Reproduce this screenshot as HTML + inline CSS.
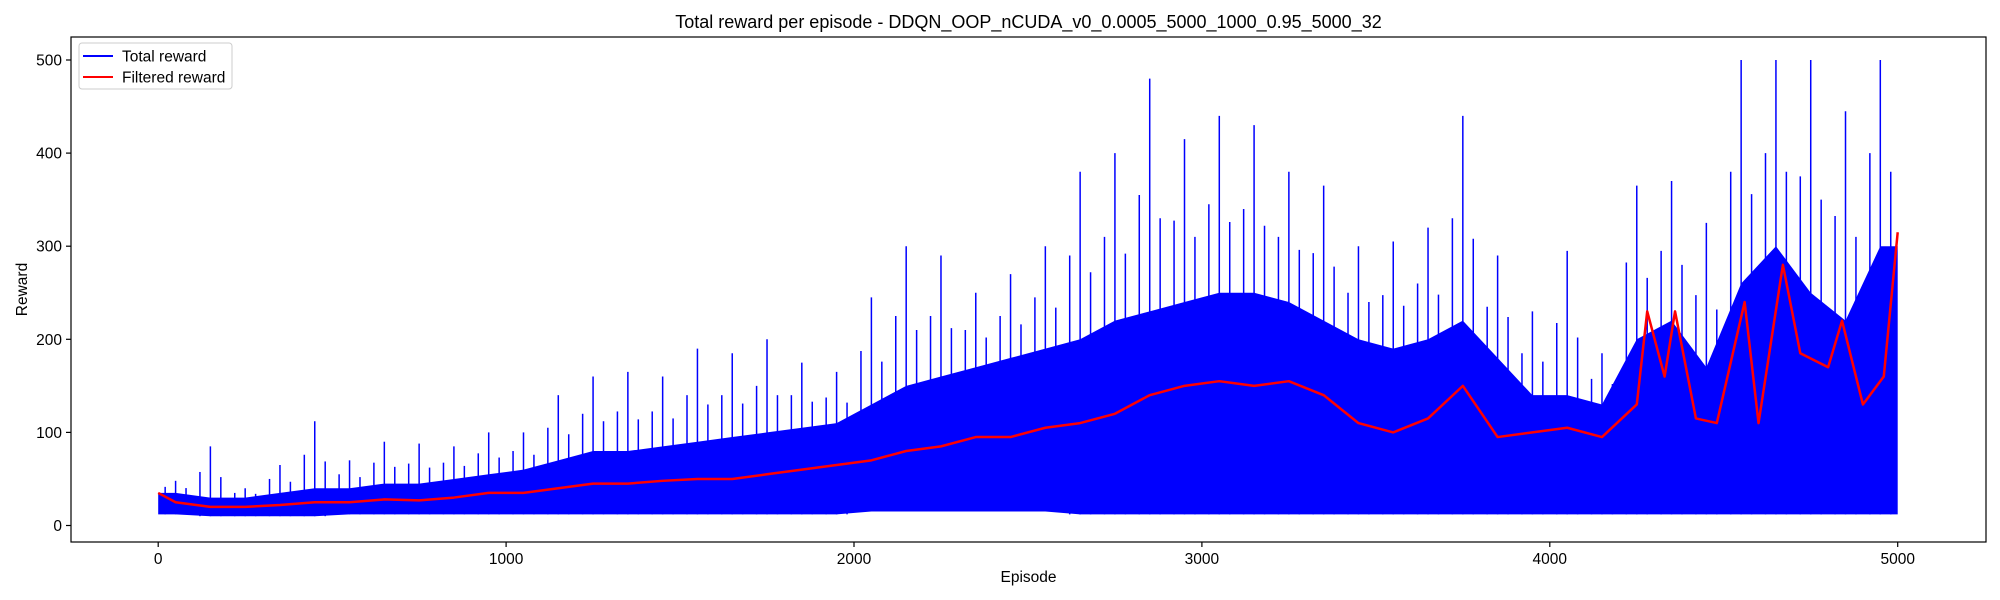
<!DOCTYPE html>
<html><head><meta charset="utf-8"><style>
body{margin:0;background:#fff;}
svg{display:block;font-family:"Liberation Sans","DejaVu Sans",sans-serif;}
</style></head><body>
<svg id="chart" width="2000" height="600"></svg>
<script>
const binStart=[0,100,200,300,400,500,600,700,800,900,1000,1100,1200,1300,1400,1500,1600,1700,1800,1900,2000,2100,2200,2300,2400,2500,2600,2700,2800,2900,3000,3100,3200,3300,3400,3500,3600,3700,3800,3900,4000,4100,4200,4300,4400,4500,4600,4700,4800,4900];
const binLow=[12,10,10,10,10,12,12,12,12,12,12,12,12,12,12,12,12,12,12,12,15,15,15,15,15,15,12,12,12,12,12,12,12,12,12,12,12,12,12,12,12,12,12,12,12,12,12,12,12,12];
const binHigh=[35,30,30,35,40,40,45,45,50,55,60,70,80,80,85,90,95,100,105,110,130,150,160,170,180,190,200,220,230,240,250,250,240,220,200,190,200,220,180,140,140,130,200,220,170,260,300,250,220,300];
const binPeak=[48,85,40,65,112,70,90,88,85,100,100,140,160,165,160,190,185,200,175,165,245,300,290,250,270,300,380,400,480,415,440,430,380,365,300,305,320,440,290,230,295,185,365,370,325,500,500,500,445,500];
const filtEp=[0,50,150,250,350,450,550,650,750,850,950,1050,1150,1250,1350,1450,1550,1650,1750,1850,1950,2050,2150,2250,2350,2450,2550,2650,2750,2850,2950,3050,3150,3250,3350,3450,3550,3650,3750,3850,3950,4050,4150,4250,4280,4330,4360,4420,4480,4560,4600,4670,4720,4800,4840,4900,4960,5000];
const filtVal=[35,25,20,20,22,25,25,28,27,30,35,35,40,45,45,48,50,50,55,60,65,70,80,85,95,95,105,110,120,140,150,155,150,155,140,110,100,115,150,95,100,105,95,130,230,160,230,115,110,240,110,280,185,170,220,130,160,315];
const yTicks=[0,100,200,300,400,500];
const xTicks=[0,1000,2000,3000,4000,5000];

const L=71,R=1986,T=37,B=542;
const xs=e=>158.2+e*0.3479;
const ys=v=>525.5-v*0.931;
const NS='http://www.w3.org/2000/svg';
const svg=document.getElementById('chart');
function mk(t,a,p){const el=document.createElementNS(NS,t);for(const k in a)el.setAttribute(k,a[k]);(p||svg).appendChild(el);return el;}

const n=binStart.length;
const cx=i=>xs(binStart[i]+50);
let bandTop='M'+xs(0)+','+ys(binHigh[0])+' ',bandBot='';
for(let i=0;i<n;i++) bandTop+=`L${cx(i)},${ys(binHigh[i])} `;
bandTop+=`L${xs(5000)},${ys(binHigh[n-1])} L${xs(5000)},${ys(binLow[n-1])} `;
for(let i=n-1;i>=0;i--) bandBot+=`L${cx(i)},${ys(binLow[i])} `;
bandBot+=`L${xs(0)},${ys(binLow[0])} `;
const band=mk('path',{d:bandTop+bandBot+'Z',fill:'#0000ff'});


for(let i=0;i<n;i++){
  const s=mk('line',{x1:xs(binStart[i]+50),x2:xs(binStart[i]+50),y1:ys(binLow[i]),y2:ys(binPeak[i]),stroke:'#0000ff','stroke-width':1.5});
  
  
  const s2=mk('line',{x1:xs(binStart[i]+20),x2:xs(binStart[i]+20),y1:ys(binLow[i]),y2:ys((binPeak[i]+binHigh[i])/2),stroke:'#0000ff','stroke-width':1.5});
  
  
  const s3=mk('line',{x1:xs(binStart[i]+80),x2:xs(binStart[i]+80),y1:ys(binLow[i]),y2:ys((binPeak[i]*0.4+binHigh[i]*0.6)),stroke:'#0000ff','stroke-width':1.5});
  
  
}
const fl=mk('polyline',{points:filtEp.map((e,i)=>xs(e)+','+ys(filtVal[i])).join(' '),fill:'none',stroke:'#ff0000','stroke-width':2.5,'stroke-linejoin':'round'});



const fr=mk('rect',{x:L,y:T,width:R-L,height:B-T,fill:'none',stroke:'#000','stroke-width':1.2});


yTicks.forEach(v=>{
  mk('line',{x1:L-5,x2:L,y1:ys(v),y2:ys(v),stroke:'#000','stroke-width':1.2});
  const t=mk('text',{x:L-9,y:ys(v)+5.5,'text-anchor':'end','font-size':15.5});t.textContent=v;
  
  
});
xTicks.forEach(v=>{
  mk('line',{x1:xs(v),x2:xs(v),y1:B,y2:B+5,stroke:'#000','stroke-width':1.2});
  const t=mk('text',{x:xs(v),y:B+22,'text-anchor':'middle','font-size':15.5});t.textContent=v;
  
  
});
const xt=mk('text',{x:(L+R)/2,y:582,'text-anchor':'middle','font-size':15.5});xt.textContent='Episode';


const yt=mk('text',{x:0,y:0,'text-anchor':'middle','font-size':15.5,transform:`translate(27,${(T+B)/2}) rotate(-90)`});yt.textContent='Reward';


const tt=mk('text',{x:(L+R)/2,y:28,'text-anchor':'middle','font-size':18});tt.textContent='Total reward per episode - DDQN_OOP_nCUDA_v0_0.0005_5000_1000_0.95_5000_32';


const lg=mk('g',{});


mk('rect',{x:79,y:43,width:153,height:46,rx:3,fill:'#fff','fill-opacity':0.8,stroke:'#ccc'},lg);
mk('line',{x1:83,x2:113,y1:56,y2:56,stroke:'#0000ff','stroke-width':2},lg);
const l1=mk('text',{x:122,y:61.5,'font-size':15.5},lg);l1.textContent='Total reward';


mk('line',{x1:83,x2:113,y1:77,y2:77,stroke:'#ff0000','stroke-width':2},lg);
const l2=mk('text',{x:122,y:82.5,'font-size':15.5},lg);l2.textContent='Filtered reward';


</script>
</body></html>
